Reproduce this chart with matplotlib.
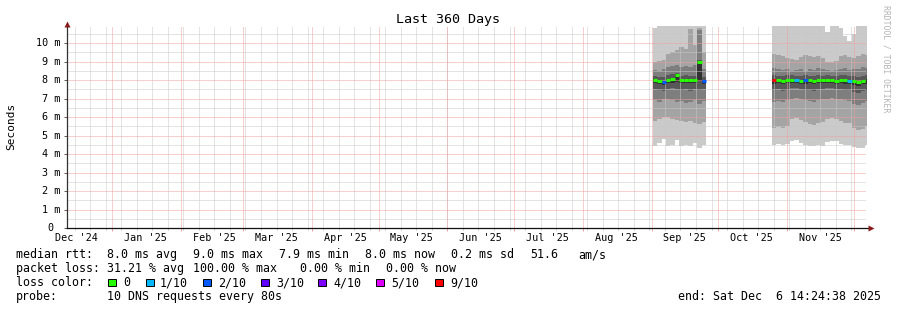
import numpy as np
import pandas as pd
import matplotlib
matplotlib.use('Agg')
import matplotlib.pyplot as plt
import matplotlib.dates as mdates
from matplotlib.patches import Rectangle

plt.rcParams['font.family'] = 'DejaVu Sans Mono'

W, H = 897, 310
t_start = pd.Timestamp('2024-12-11 14:24:38')
t_end = pd.Timestamp('2025-12-06 14:24:38')

# block 1: 2-day steps starting Sep 1 (sorted ping values in ms, p1=min .. p10=max)
sep_start = pd.Timestamp('2025-09-01 12:00')
sep_p1 = [4.45, 4.6, 4.8, 4.45, 4.5, 4.75, 4.45, 4.5, 4.45, 4.6, 4.35, 4.5]
sep_p2 = [5.8, 5.9, 6.0, 6.0, 5.9, 5.85, 5.8, 5.75, 5.8, 5.7, 5.6, 5.75]
sep_p3 = [6.9, 6.8, 6.95, 7.0, 6.9, 6.8, 6.85, 6.75, 6.8, 6.9, 6.7, 6.85]
sep_p4 = [7.5, 7.45, 7.4, 7.5, 7.55, 7.5, 7.45, 7.5, 7.4, 7.5, 7.45, 7.5]
sep_p5 = [7.85, 7.8, 7.75, 7.85, 7.85, 7.9, 7.85, 7.85, 7.85, 7.85, 7.95, 7.8]
sep_p6 = [8.05, 8.0, 7.95, 8.05, 8.1, 8.3, 8.05, 8.05, 8.05, 8.05, 9.05, 8.0]
sep_p7 = [8.2, 8.15, 8.15, 8.25, 8.3, 8.4, 8.2, 8.25, 8.2, 8.2, 9.1, 8.15]
sep_p8 = [8.55, 8.5, 8.6, 8.7, 8.75, 8.8, 8.7, 8.75, 8.7, 8.8, 10.7, 8.6]
sep_p9 = [9.0, 9.05, 9.1, 9.4, 9.5, 9.6, 9.8, 9.7, 10.75, 9.9, 10.8, 9.5]
sep_p10 = [10.8, 11.5, 11.5, 11.5, 11.5, 11.5, 11.5, 11.5, 11.5, 11.5, 11.5, 11.5]
sep_median = [8.0, 7.95, 7.9, 8.0, 8.05, 8.25, 8.0, 8.0, 8.0, 8.0, 9.0, 7.95]
sep_loss = [0, 0, 2, 0, 0, 0, 0, 0, 0, 0, 0, 2]

# block 2: 2-day steps starting Oct 25
oct_start = pd.Timestamp('2025-10-25 06:00')
oct_p1 = [4.5, 4.55, 4.5, 4.55, 4.7, 4.75, 4.6, 4.5, 4.45, 4.45, 4.5, 4.45, 4.65, 4.7, 4.7, 4.55, 4.5, 4.5, 4.4, 4.3, 4.35, 4.5]
oct_p2 = [5.4, 5.45, 5.4, 5.5, 5.9, 5.95, 5.85, 5.75, 5.6, 5.55, 5.7, 5.75, 5.9, 5.95, 5.9, 5.8, 5.7, 5.65, 5.4, 5.3, 5.35, 5.5]
oct_p3 = [6.8, 6.85, 6.8, 6.9, 7.0, 7.05, 6.95, 6.9, 6.85, 6.8, 6.9, 6.95, 7.0, 7.05, 7.0, 6.95, 6.9, 6.85, 6.7, 6.65, 6.75, 6.85]
oct_p4 = [7.45, 7.5, 7.4, 7.45, 7.55, 7.55, 7.5, 7.45, 7.45, 7.4, 7.5, 7.5, 7.55, 7.55, 7.5, 7.5, 7.45, 7.45, 7.35, 7.3, 7.4, 7.45]
oct_p5 = [7.8, 7.85, 7.8, 7.85, 7.85, 7.85, 7.8, 7.8, 7.85, 7.8, 7.85, 7.85, 7.85, 7.85, 7.8, 7.85, 7.8, 7.8, 7.75, 7.7, 7.8, 7.8]
oct_p6 = [8.05, 8.05, 8.0, 8.05, 8.05, 8.05, 8.0, 8.05, 8.05, 8.0, 8.05, 8.05, 8.05, 8.05, 8.0, 8.05, 8.05, 8.0, 8.0, 7.95, 8.0, 8.05]
oct_p7 = [8.25, 8.2, 8.2, 8.25, 8.25, 8.2, 8.2, 8.25, 8.2, 8.2, 8.25, 8.2, 8.25, 8.2, 8.2, 8.25, 8.25, 8.2, 8.2, 8.15, 8.2, 8.25]
oct_p8 = [8.65, 8.6, 8.55, 8.6, 8.5, 8.55, 8.6, 8.5, 8.6, 8.55, 8.65, 8.6, 8.55, 8.5, 8.55, 8.6, 8.65, 8.55, 8.6, 8.6, 8.7, 8.65]
oct_p9 = [9.4, 9.35, 9.3, 9.2, 9.15, 9.1, 9.25, 9.35, 9.3, 9.25, 9.3, 9.2, 9.0, 8.95, 9.05, 9.3, 9.35, 9.25, 9.2, 9.3, 9.4, 9.35]
oct_p10 = [11.5, 11.5, 11.5, 11.5, 11.5, 11.5, 11.5, 11.5, 11.5, 11.5, 11.5, 11.5, 10.6, 11.5, 11.5, 10.8, 10.4, 10.1, 10.5, 11.5, 11.5, 11.5]
oct_median = [8.0, 8.0, 7.95, 8.0, 8.0, 8.0, 7.95, 8.0, 8.0, 7.95, 8.0, 8.0, 8.0, 8.0, 7.95, 8.0, 8.0, 7.95, 7.95, 7.9, 7.95, 8.0]
oct_loss = [9, 0, 0, 0, 0, 1, 0, 2, 0, 0, 0, 0, 0, 0, 0, 0, 0, 1, 0, 0, 0, 0]

loss_names = ['0', '1/10', '2/10', '3/10', '4/10', '5/10', '9/10']
loss_levels = [0, 1, 2, 3, 4, 5, 9]
loss_colors = ['#26ff00', '#00b8ff', '#0059ff', '#5e00ff', '#7e00ff', '#dd00ff', '#ff0000']
band_colors = ['#cacaca', '#a4a4a4', '#7e7e7e', '#585858', '#323232']

rtt_stats = ['8.0 ms avg', '9.0 ms max', '7.9 ms min', '8.0 ms now', '0.2 ms sd', '51.6', 'am/s']
loss_stats = ['31.21 % avg', '100.00 % max', '0.00 % min', '0.00 % now']

y_labels = ['0', '1 m', '2 m', '3 m', '4 m', '5 m', '6 m', '7 m', '8 m', '9 m', '10 m']


def fpos(x, y):
    return x / W, 1 - y / H


fig = plt.figure(figsize=(W / 100, H / 100), dpi=100)
ax = fig.add_axes([67 / W, 1 - 228 / H, 799 / W, 202 / H])
ax.set_xlim(mdates.date2num(t_start), mdates.date2num(t_end))
ax.set_ylim(0, 10.92)
for s in ax.spines.values():
    s.set_visible(False)


def smoke(t0, pings, median, loss):
    n = len(median)
    edges = mdates.date2num(pd.date_range(t0, periods=n + 1, freq='2D'))
    pairs = [(0, 9), (1, 8), (2, 7), (3, 6), (4, 5)]
    for (a, b), c in zip(pairs, band_colors):
        lo = np.append(pings[a], pings[a][-1])
        hi = np.append(pings[b], pings[b][-1])
        ax.fill_between(edges, lo, hi, step='post', color=c, linewidth=0, zorder=1)
    cols = [loss_colors[loss_levels.index(l)] for l in loss]
    ax.hlines(median, edges[:-1], edges[1:], colors=cols, linewidth=2.2, zorder=4)


smoke(sep_start, [sep_p1, sep_p2, sep_p3, sep_p4, sep_p5, sep_p6, sep_p7, sep_p8, sep_p9, sep_p10],
      sep_median, sep_loss)
smoke(oct_start, [oct_p1, oct_p2, oct_p3, oct_p4, oct_p5, oct_p6, oct_p7, oct_p8, oct_p9, oct_p10],
      oct_median, oct_loss)

# grid, dotted
dot = (0, (1, 1))
months = pd.date_range('2025-01-01', t_end, freq='MS')
weeks = pd.date_range(t_start, t_end, freq='W-SUN').normalize()
for w in weeks:
    ax.axvline(mdates.date2num(w), color='#c8c8c8', lw=0.72, ls=dot, zorder=2)
for yv in np.arange(0.5, 11, 1.0):
    ax.axhline(yv, color='#c8c8c8', lw=0.72, ls=dot, zorder=2)
for m in months:
    ax.axvline(mdates.date2num(m), color='#f0a0a0', lw=0.72, ls=dot, zorder=3)
for yv in range(1, 11):
    ax.axhline(yv, color='#f0a0a0', lw=0.72, ls=dot, zorder=3)

# ticks
ax.set_xticks(mdates.date2num(months))
ax.set_xticks(mdates.date2num(weeks), minor=True)
ax.tick_params(axis='x', which='major', length=2.5, width=0.72, color='#f0a0a0', labelbottom=False)
ax.tick_params(axis='x', which='minor', length=1.5, width=0.72, color='#c8c8c8')
ax.set_yticks(range(11))
ax.tick_params(axis='y', length=2.5, width=0.72, color='#606060', labelleft=False)

# month labels at the 16th
lab_months = pd.date_range('2024-12-01', '2025-11-30', freq='MS')
for m in lab_months:
    ax.text(mdates.date2num(m + pd.Timedelta(days=15)), -10 / 202, m.strftime("%b '%y"),
            transform=ax.get_xaxis_transform(), ha='center', va='center', fontsize=7.3)
for i, lab in enumerate(y_labels):
    xo = -13 / 799 if lab == '0' else -7 / 799
    ax.text(xo, i, lab, transform=ax.get_yaxis_transform(), ha='right', va='center', fontsize=7.3)

# axis lines with arrows
ax.plot([0, 0], [0, 1], color='#303030', lw=0.9, transform=ax.transAxes, clip_on=False, zorder=5)
ax.plot([0, 803 / 799], [0, 0], color='#101010', lw=0.9, transform=ax.transAxes, clip_on=False, zorder=5)
ax.plot([0], [1 + 2.5 / 202], marker='^', ms=4.5, color='#8b1a1a', mec='none',
        transform=ax.transAxes, clip_on=False, zorder=6)
ax.plot([804 / 799], [0], marker='>', ms=4.5, color='#8b1a1a', mec='none',
        transform=ax.transAxes, clip_on=False, zorder=6)

# titles
fig.text(*fpos(448, 19), 'Last 360 Days', ha='center', va='center', fontsize=9.6)
fig.text(*fpos(11, 126), 'Seconds', ha='center', va='center', rotation=90, fontsize=8)
fig.text(*fpos(886, 59), 'RRDTOOL / TOBI OETIKER', ha='center', va='center', rotation=-90,
         fontsize=5.9, color='#b4b4b4')

# legend block
fs = 8.4
fig.text(*fpos(16, 258), 'median rtt:', fontsize=fs, va='baseline')
for x, s in zip([107, 193, 279, 365, 451, 530, 578], rtt_stats):
    fig.text(*fpos(x, 258), s, fontsize=fs, va='baseline')
fig.text(*fpos(16, 272), 'packet loss:', fontsize=fs, va='baseline')
for x, s in zip([107, 193, 300, 386], loss_stats):
    fig.text(*fpos(x, 272), s, fontsize=fs, va='baseline')
fig.text(*fpos(16, 286), 'loss color:', fontsize=fs, va='baseline')
box_x = [108, 146, 203, 261, 318, 376, 435]
lab_x = [123, 160, 218, 276, 333, 391, 450]
for bx, lx, name, c in zip(box_x, lab_x, loss_names, loss_colors):
    fig.patches.append(Rectangle(fpos(bx, 286), 7.5 / W, 7.5 / H, transform=fig.transFigure,
                                 facecolor=c, edgecolor='#000000', linewidth=0.7))
    fig.text(*fpos(lx, 286), name, fontsize=fs, va='baseline')
fig.text(*fpos(16, 300), 'probe:', fontsize=fs, va='baseline')
fig.text(*fpos(107, 300), '10 DNS requests every 80s', fontsize=fs, va='baseline')
fig.text(*fpos(678, 300), 'end: Sat Dec  6 14:24:38 2025', fontsize=fs, va='baseline')

fig.savefig('out.png', dpi=100)
